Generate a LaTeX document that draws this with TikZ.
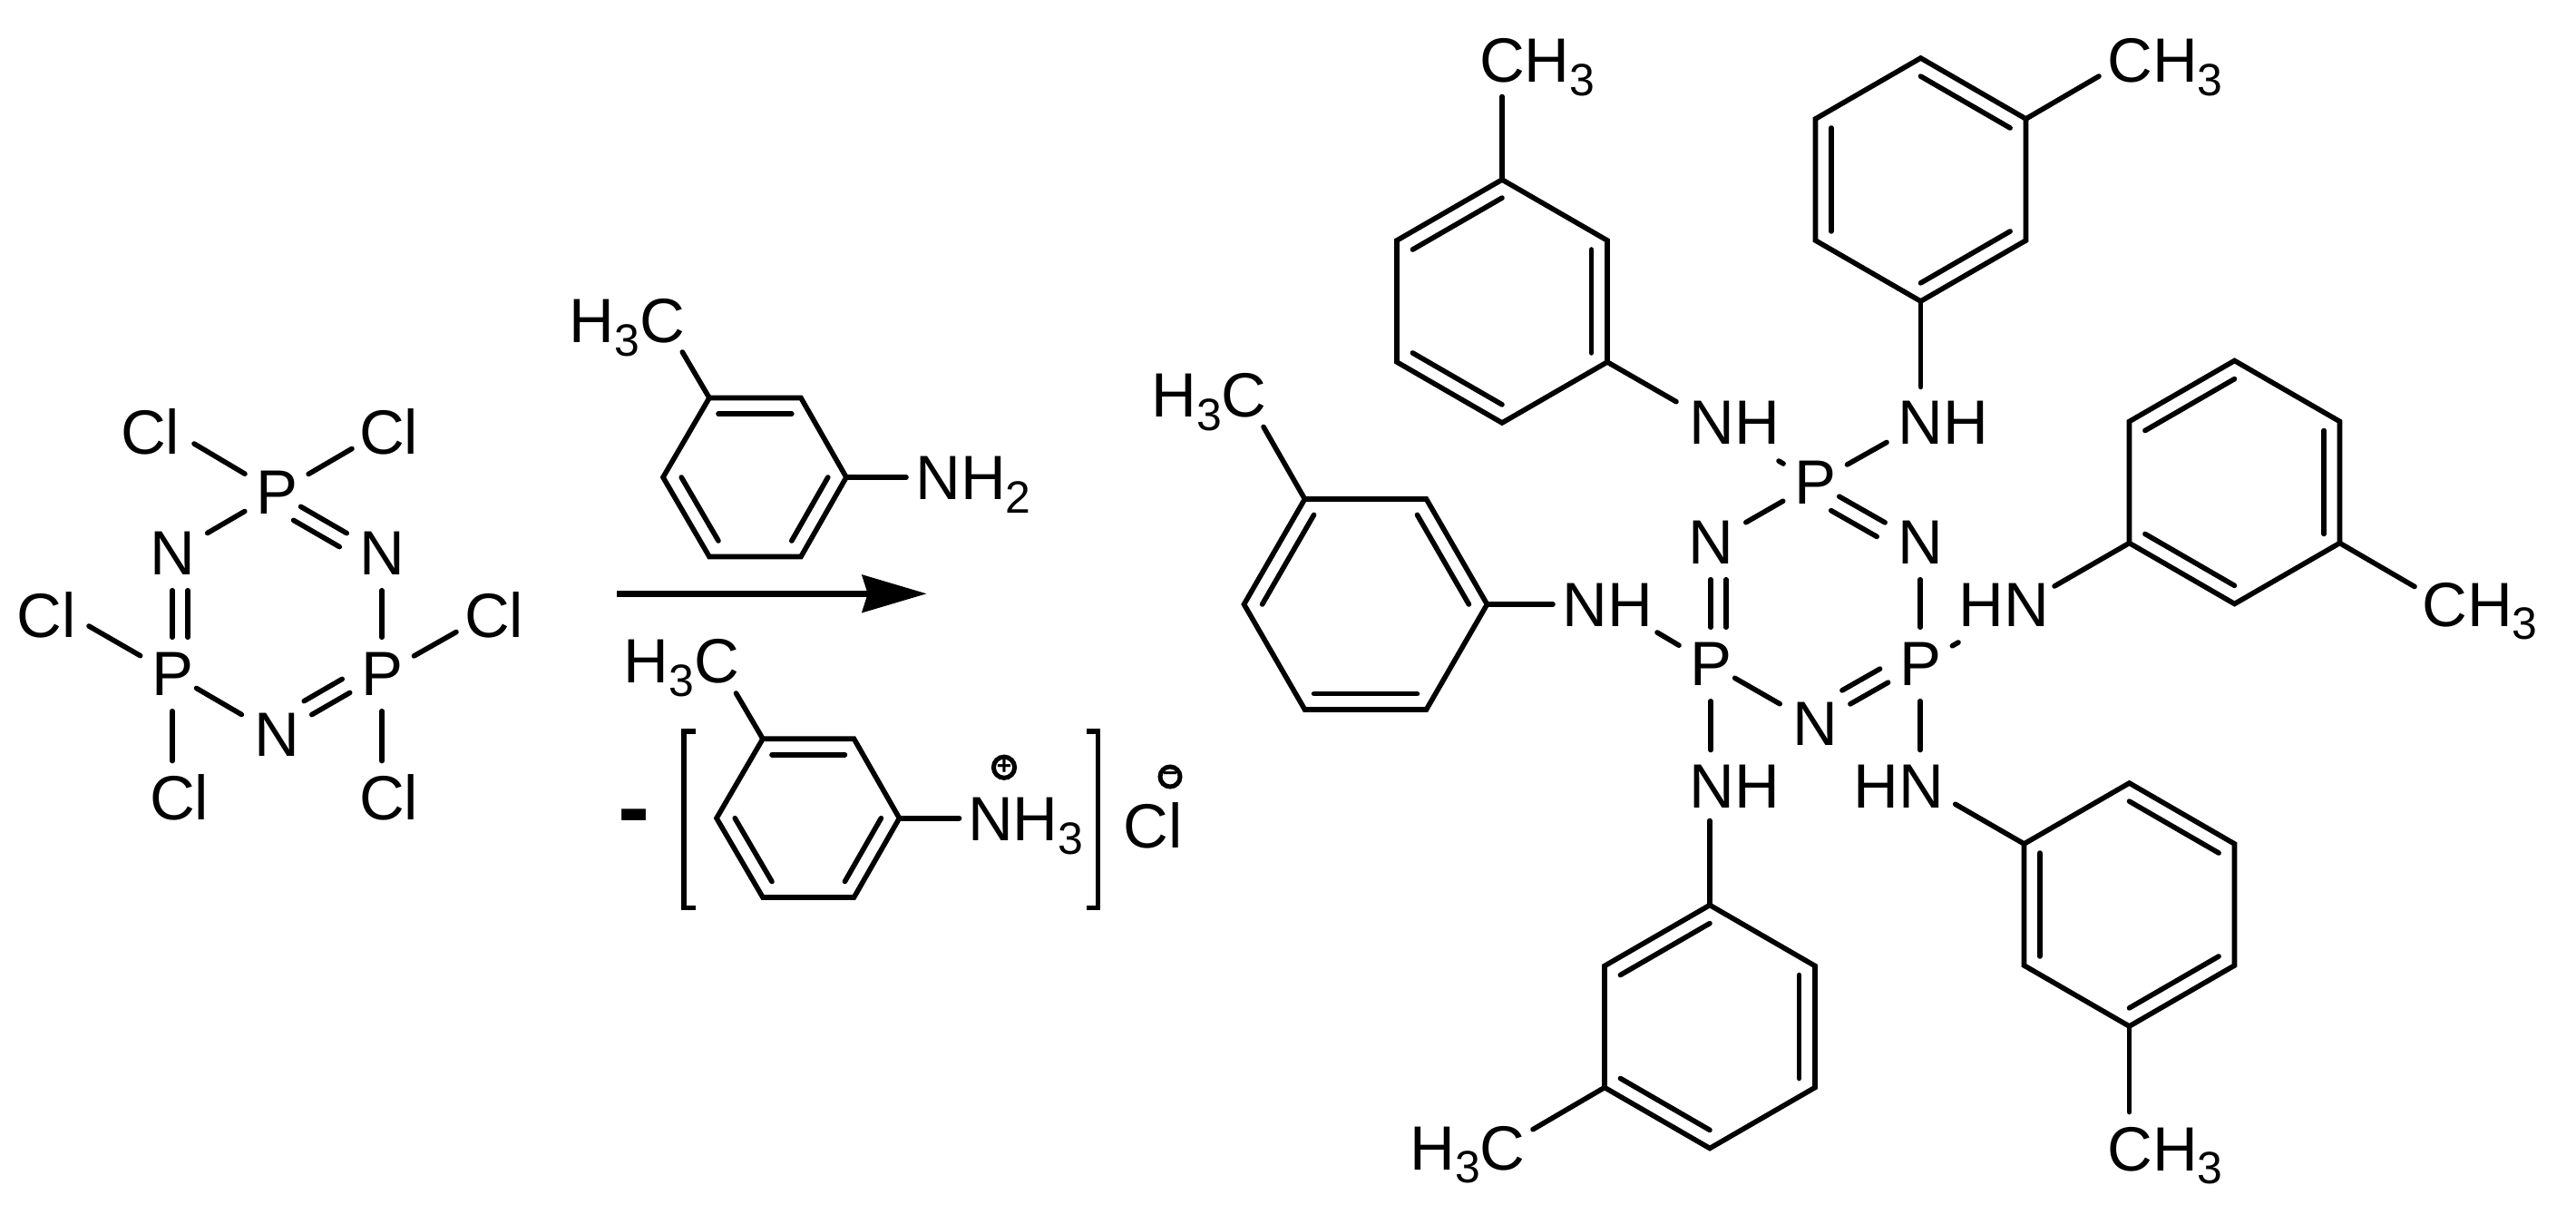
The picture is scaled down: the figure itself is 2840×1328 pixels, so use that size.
\documentclass[tikz,border=0pt]{standalone}
\usepackage{fontspec}
\setmainfont{Liberation Sans}
\usetikzlibrary{calc,arrows.meta}
\newcommand{\lowsub}[1]{\raisebox{-4.2pt}{\fontsize{14.2pt}{14.2pt}\selectfont #1}}
\tikzset{
	bond/.style={line width=0.056cm,line cap=round},
	bracket/.style={line width=0.058cm},
	atom/.style={circle,inner sep=0pt,minimum size=0.8cm,font=\fontsize{19.6pt}{24pt}\selectfont},
	lbl/.style={inner sep=0pt,anchor=base west,font=\fontsize{19.6pt}{24pt}\selectfont},
	chargemark/.style={draw,circle,line width=0.05cm,inner sep=0pt,minimum size=0.22cm,font=\fontsize{8pt}{8pt}\bfseries\selectfont},
	nearend/.style={shorten <=-0.1cm},
	farend/.style={shorten >=0.04cm},
}
\begin{document}
\begin{tikzpicture}[x=0.01cm,y=-0.01cm]
	\useasboundingbox (0,0) rectangle (2840,1328);
	% phosphazene ring, left
	\node [atom] (lp1) at ( 305, 543 ) {P};
	\node [atom] (ln1) at ( 421, 610 ) {N};
	\node [atom] (lp2) at ( 421, 743 ) {P};
	\node [atom] (ln2) at ( 305, 810 ) {N};
	\node [atom] (lp3) at ( 190, 743 ) {P};
	\node [atom] (ln3) at ( 190, 610 ) {N};
	\node [lbl] (lcl1) at ( 132.5, 501 ) {Cl};
	\node [lbl] (lcl2) at ( 395.5, 501 ) {Cl};
	\node [lbl] (lcl3) at ( 18, 702.8 ) {Cl};
	\node [lbl] (lcl4) at ( 511.5, 702.8 ) {Cl};
	\node [lbl] (lcl5) at ( 164.5, 903.5 ) {Cl};
	\node [lbl] (lcl6) at ( 395.5, 903.5 ) {Cl};
	\coordinate (le1) at ( 214, 489 );
	\coordinate (le2) at ( 388, 494.5 );
	\coordinate (le3) at ( 98, 690 );
	\coordinate (le4) at ( 503, 696.5 );
	\coordinate (le5) at ( 190, 838.5 );
	\coordinate (le6) at ( 421, 838.5 );
	\draw [bond,nearend,farend] (lp1) -- (ln1);
	\draw [bond,nearend,farend,transform canvas={shift={(-8,15)}}] (lp1) -- (ln1);
	\draw [bond] (ln1) -- (lp2);
	\draw [bond,farend] (lp2) -- (ln2);
	\draw [bond,farend,transform canvas={shift={(-8.5,-15)}}] (lp2) -- (ln2);
	\draw [bond,nearend,farend] (lp3) -- (ln2);
	\draw [bond] (lp3) -- (ln3);
	\draw [bond,transform canvas={shift={(17,0)}}] (lp3) -- (ln3);
	\draw [bond,farend] (lp1) -- (ln3);
	\draw [bond] (lp1) -- (le1);
	\draw [bond] (lp1) -- (le2);
	\draw [bond] (lp3) -- (le3);
	\draw [bond] (lp2) -- (le4);
	\draw [bond] (lp3) -- (le5);
	\draw [bond] (lp2) -- (le6);
	% toluidine over the arrow
	\coordinate (tc) at ( 832, 526 );
	\coordinate (t1) at ( 782, 438.5 );
	\coordinate (t2) at ( 883, 438.5 );
	\coordinate (t3) at ( 933, 526 );
	\coordinate (t4) at ( 883, 613.5 );
	\coordinate (t5) at ( 782, 613.5 );
	\coordinate (t6) at ( 731, 526 );
	\draw [bond] (t1) -- (t2) -- (t3) -- (t4) -- (t5) -- (t6) -- cycle;
	\draw [bond] ($(tc)!.8!(t1)$) -- ($(tc)!.8!(t2)$);
	\draw [bond] ($(tc)!.8!(t3)$) -- ($(tc)!.8!(t4)$);
	\draw [bond] ($(tc)!.8!(t5)$) -- ($(tc)!.8!(t6)$);
	\node [lbl] (tme) at ( 627, 377.3 ) {H\lowsub{3}C};
	\node [lbl] (tnh) at ( 1008.7, 550.7 ) {NH\lowsub{2}};
	\coordinate (te1) at ( 752.3, 388 );
	\coordinate (te2) at ( 999, 526 );
	\draw [bond] (t1) -- (te1);
	\draw [bond] (t3) -- (te2);
	% reaction arrow
	\coordinate (arrowa) at ( 680, 654.3 );
	\coordinate (arrowb) at ( 1021.7, 654.3 );
	\draw [line width=0.067cm,-{Stealth[length=0.71cm,width=0.41cm,inset=0.06cm]}] (arrowa) -- (arrowb);
	% salt under the arrow
	\node [lbl,anchor=base,font=\fontsize{30pt}{32pt}\bfseries\selectfont] (minus) at ( 699, 925 ) {-};
	\draw [bracket] ( 766.7, 806 ) -- ( 754, 806 ) -- ( 754, 1000.5 ) -- ( 766.7, 1000.5 );
	\draw [bracket] ( 1198, 806 ) -- ( 1210.5, 806 ) -- ( 1210.5, 1000.5 ) -- ( 1198, 1000.5 );
	\coordinate (sc) at ( 891, 901.7 );
	\coordinate (s1) at ( 841, 814.2 );
	\coordinate (s2) at ( 941.5, 814.2 );
	\coordinate (s3) at ( 991.5, 901.7 );
	\coordinate (s4) at ( 941.5, 989 );
	\coordinate (s5) at ( 841, 989 );
	\coordinate (s6) at ( 790, 901.7 );
	\draw [bond] (s1) -- (s2) -- (s3) -- (s4) -- (s5) -- (s6) -- cycle;
	\draw [bond] ($(sc)!.8!(s1)$) -- ($(sc)!.8!(s2)$);
	\draw [bond] ($(sc)!.8!(s3)$) -- ($(sc)!.8!(s4)$);
	\draw [bond] ($(sc)!.8!(s5)$) -- ($(sc)!.8!(s6)$);
	\node [lbl] (sme) at ( 687, 752.3 ) {H\lowsub{3}C};
	\node [lbl] (snh) at ( 1066.4, 926.7 ) {NH\lowsub{3}};
	\node [lbl] (scl) at ( 1238, 934 ) {Cl};
	\node [chargemark] (splus) at ( 1107, 845.7 ) {+};
	\node [chargemark] (sminus) at ( 1290, 856 ) {−};
	\coordinate (se1) at ( 811.5, 764 );
	\coordinate (se2) at ( 1057.5, 901.7 );
	\draw [bond] (s1) -- (se1);
	\draw [bond] (s3) -- (se2);
	% phosphazene ring, product
	\node [atom] (rp1) at ( 2001, 532 ) {P};
	\node [atom] (rn1) at ( 2117, 598 ) {N};
	\node [atom] (rp2) at ( 2117, 732 ) {P};
	\node [atom] (rn2) at ( 2001, 798 ) {N};
	\node [atom] (rp3) at ( 1886, 732 ) {P};
	\node [atom] (rn3) at ( 1886, 598 ) {N};
	\draw [bond,nearend,farend] (rp1) -- (rn1);
	\draw [bond,nearend,farend,transform canvas={shift={(-9,15.5)}}] (rp1) -- (rn1);
	\draw [bond] (rn1) -- (rp2);
	\draw [bond,farend] (rp2) -- (rn2);
	\draw [bond,farend,transform canvas={shift={(-9,-15)}}] (rp2) -- (rn2);
	\draw [bond,nearend,farend] (rp3) -- (rn2);
	\draw [bond] (rp3) -- (rn3);
	\draw [bond,transform canvas={shift={(17,0)}}] (rp3) -- (rn3);
	\draw [bond,farend] (rp1) -- (rn3);
	\node [lbl] (nh1) at ( 1861.7, 490 ) {NH};
	\node [lbl] (nh2) at ( 2091.7, 490 ) {NH};
	\node [lbl] (nh3) at ( 1721.7, 690 ) {NH};
	\node [lbl] (hn4) at ( 2158.5, 690 ) {HN};
	\node [lbl] (nh5) at ( 1861.7, 890 ) {NH};
	\node [lbl] (hn6) at ( 2042.5, 890 ) {HN};
	\coordinate (re1) at ( 1961, 508 );
	\coordinate (re2) at ( 2080, 487.5 );
	\coordinate (re3) at ( 1827, 697 );
	\coordinate (re4) at ( 2159, 708 );
	\coordinate (re5) at ( 1886, 826.5 );
	\coordinate (re6) at ( 2117, 826.5 );
	\draw [bond] (rp1) -- (re1);
	\draw [bond] (rp1) -- (re2);
	\draw [bond] (rp3) -- (re3);
	\draw [bond] (rp2) -- (re4);
	\draw [bond] (rp3) -- (re5);
	\draw [bond] (rp2) -- (re6);
	% aryl, upper left
	\coordinate (ac) at ( 1656, 332 );
	\coordinate (a1) at ( 1656, 198 );
	\coordinate (a2) at ( 1772, 265 );
	\coordinate (a3) at ( 1772, 399 );
	\coordinate (a4) at ( 1656, 466 );
	\coordinate (a5) at ( 1540, 399 );
	\coordinate (a6) at ( 1540, 265 );
	\draw [bond] (a1) -- (a2) -- (a3) -- (a4) -- (a5) -- (a6) -- cycle;
	\draw [bond] ($(ac)!.85!(a1)$) -- ($(ac)!.85!(a6)$);
	\draw [bond] ($(ac)!.85!(a2)$) -- ($(ac)!.85!(a3)$);
	\draw [bond] ($(ac)!.85!(a4)$) -- ($(ac)!.85!(a5)$);
	\node [lbl] (ame) at ( 1630.5, 91 ) {CH\lowsub{3}};
	\coordinate (ae1) at ( 1656, 106.5 );
	\coordinate (ae2) at ( 1848, 442.7 );
	\draw [bond] (a1) -- (ae1);
	\draw [bond] (a3) -- (ae2);
	% aryl, upper right
	\coordinate (bc) at ( 2117.5, 198 );
	\coordinate (b1) at ( 2117.5, 64 );
	\coordinate (b2) at ( 2233.5, 131 );
	\coordinate (b3) at ( 2233.5, 265 );
	\coordinate (b4) at ( 2117.5, 332 );
	\coordinate (b5) at ( 2001.5, 265 );
	\coordinate (b6) at ( 2001.5, 131 );
	\draw [bond] (b1) -- (b2) -- (b3) -- (b4) -- (b5) -- (b6) -- cycle;
	\draw [bond] ($(bc)!.85!(b1)$) -- ($(bc)!.85!(b2)$);
	\draw [bond] ($(bc)!.85!(b3)$) -- ($(bc)!.85!(b4)$);
	\draw [bond] ($(bc)!.85!(b5)$) -- ($(bc)!.85!(b6)$);
	\node [lbl] (bme) at ( 2322.5, 91 ) {CH\lowsub{3}};
	\coordinate (be1) at ( 2117.5, 426.5 );
	\coordinate (be2) at ( 2314, 84 );
	\draw [bond] (b4) -- (be1);
	\draw [bond] (b2) -- (be2);
	% aryl, right
	\coordinate (cc) at ( 2463.5, 531.5 );
	\coordinate (c1) at ( 2463.5, 397.5 );
	\coordinate (c2) at ( 2579.5, 464.5 );
	\coordinate (c3) at ( 2579.5, 598.5 );
	\coordinate (c4) at ( 2463.5, 665.5 );
	\coordinate (c5) at ( 2347.5, 598.5 );
	\coordinate (c6) at ( 2347.5, 464.5 );
	\draw [bond] (c1) -- (c2) -- (c3) -- (c4) -- (c5) -- (c6) -- cycle;
	\draw [bond] ($(cc)!.85!(c1)$) -- ($(cc)!.85!(c6)$);
	\draw [bond] ($(cc)!.85!(c2)$) -- ($(cc)!.85!(c3)$);
	\draw [bond] ($(cc)!.85!(c4)$) -- ($(cc)!.85!(c5)$);
	\node [lbl] (cme) at ( 2669.5, 690 ) {CH\lowsub{3}};
	\coordinate (ce1) at ( 2265, 646 );
	\coordinate (ce2) at ( 2662, 646.5 );
	\draw [bond] (c5) -- (ce1);
	\draw [bond] (c3) -- (ce2);
	% aryl, left
	\coordinate (dc) at ( 1505.5, 666 );
	\coordinate (d1) at ( 1438.5, 550 );
	\coordinate (d2) at ( 1572.5, 550 );
	\coordinate (d3) at ( 1639.5, 666 );
	\coordinate (d4) at ( 1572.5, 782 );
	\coordinate (d5) at ( 1438.5, 782 );
	\coordinate (d6) at ( 1371.5, 666 );
	\draw [bond] (d1) -- (d2) -- (d3) -- (d4) -- (d5) -- (d6) -- cycle;
	\draw [bond] ($(dc)!.85!(d1)$) -- ($(dc)!.85!(d6)$);
	\draw [bond] ($(dc)!.85!(d2)$) -- ($(dc)!.85!(d3)$);
	\draw [bond] ($(dc)!.85!(d4)$) -- ($(dc)!.85!(d5)$);
	\node [lbl] (dme) at ( 1268.5, 460 ) {H\lowsub{3}C};
	\coordinate (de1) at ( 1393, 470.5 );
	\coordinate (de2) at ( 1712, 666 );
	\draw [bond] (d1) -- (de1);
	\draw [bond] (d3) -- (de2);
	% aryl, lower left
	\coordinate (ec) at ( 1885, 1131.5 );
	\coordinate (e1) at ( 1885, 997.5 );
	\coordinate (e2) at ( 2001, 1064.5 );
	\coordinate (e3) at ( 2001, 1198.5 );
	\coordinate (e4) at ( 1885, 1265.5 );
	\coordinate (e5) at ( 1769, 1198.5 );
	\coordinate (e6) at ( 1769, 1064.5 );
	\draw [bond] (e1) -- (e2) -- (e3) -- (e4) -- (e5) -- (e6) -- cycle;
	\draw [bond] ($(ec)!.85!(e1)$) -- ($(ec)!.85!(e6)$);
	\draw [bond] ($(ec)!.85!(e2)$) -- ($(ec)!.85!(e3)$);
	\draw [bond] ($(ec)!.85!(e4)$) -- ($(ec)!.85!(e5)$);
	\node [lbl] (eme) at ( 1553.5, 1289 ) {H\lowsub{3}C};
	\coordinate (ee1) at ( 1885, 904.5 );
	\coordinate (ee2) at ( 1690, 1244.7 );
	\draw [bond] (e1) -- (ee1);
	\draw [bond] (e5) -- (ee2);
	% aryl, lower right
	\coordinate (fc) at ( 2347.5, 997 );
	\coordinate (f1) at ( 2347.5, 863 );
	\coordinate (f2) at ( 2463.5, 930 );
	\coordinate (f3) at ( 2463.5, 1064 );
	\coordinate (f4) at ( 2347.5, 1131 );
	\coordinate (f5) at ( 2231.5, 1064 );
	\coordinate (f6) at ( 2231.5, 930 );
	\draw [bond] (f1) -- (f2) -- (f3) -- (f4) -- (f5) -- (f6) -- cycle;
	\draw [bond] ($(fc)!.85!(f1)$) -- ($(fc)!.85!(f2)$);
	\draw [bond] ($(fc)!.85!(f3)$) -- ($(fc)!.85!(f4)$);
	\draw [bond] ($(fc)!.85!(f5)$) -- ($(fc)!.85!(f6)$);
	\node [lbl] (fme) at ( 2322.5, 1290 ) {CH\lowsub{3}};
	\coordinate (fe1) at ( 2155.7, 886.3 );
	\coordinate (fe2) at ( 2347.5, 1225.5 );
	\draw [bond] (f6) -- (fe1);
	\draw [bond] (f4) -- (fe2);
\end{tikzpicture}
\end{document}
